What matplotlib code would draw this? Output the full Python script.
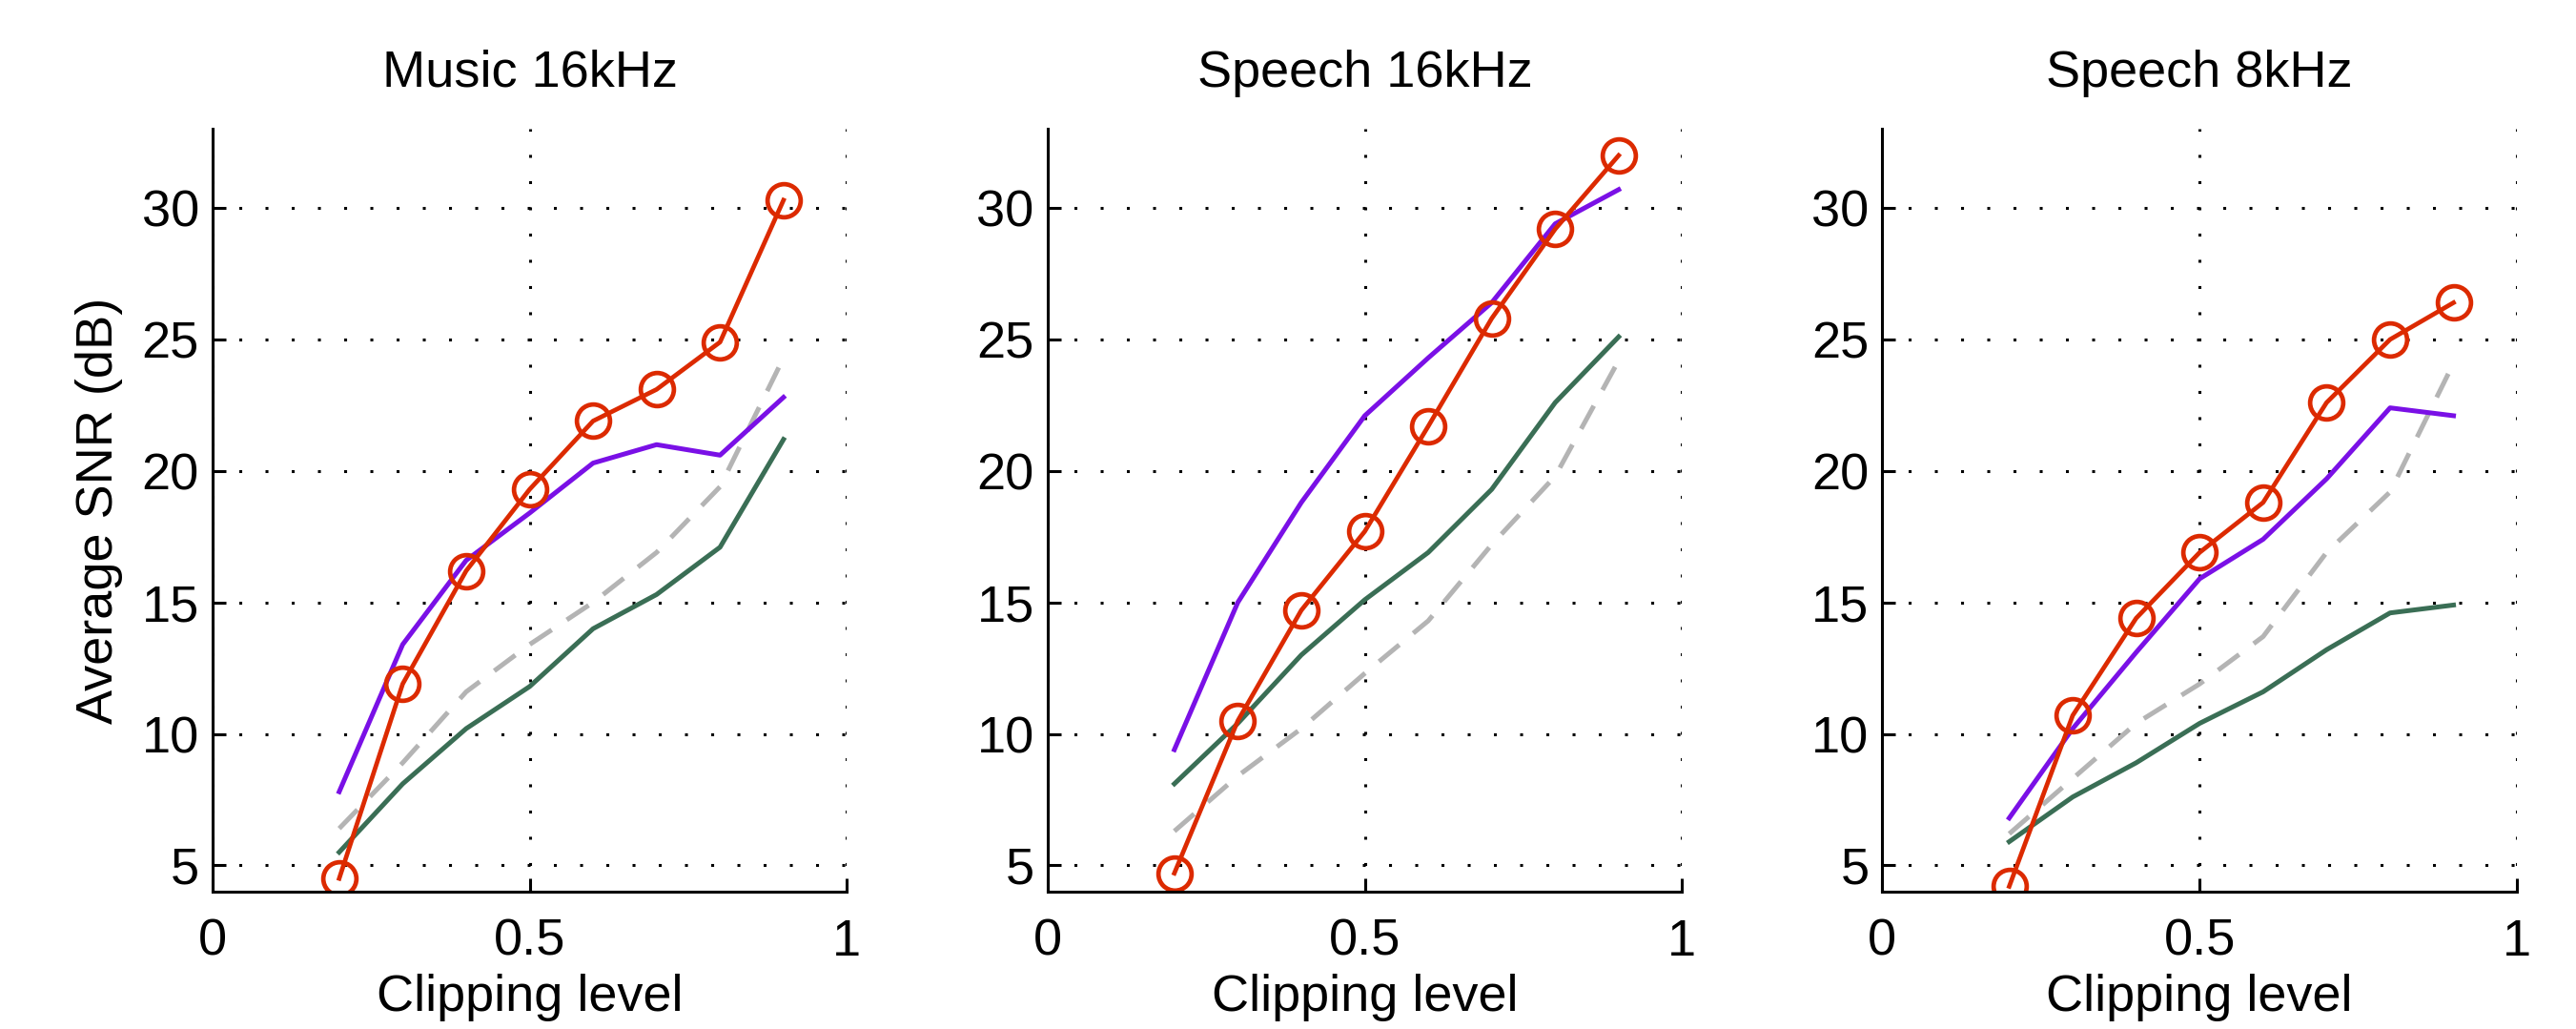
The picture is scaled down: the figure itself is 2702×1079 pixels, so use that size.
import numpy as np
import matplotlib.pyplot as plt

plt.rcParams['font.family'] = ['Liberation Sans', 'DejaVu Sans']

clip = [0.2, 0.3, 0.4, 0.5, 0.6, 0.7, 0.8, 0.9]
titles = ['Music 16kHz', 'Speech 16kHz', 'Speech 8kHz']

# red with circles
red = [
    [4.5, 11.9, 16.2, 19.3, 21.9, 23.1, 24.9, 30.3],
    [4.7, 10.5, 14.7, 17.7, 21.7, 25.8, 29.2, 32.0],
    [4.2, 10.7, 14.4, 16.9, 18.8, 22.6, 25.0, 26.4],
]
# purple
purple = [
    [7.8, 13.4, 16.6, 18.4, 20.3, 21.0, 20.6, 22.8],
    [9.4, 15.0, 18.8, 22.1, 24.3, 26.4, 29.4, 30.7],
    [6.8, 10.2, 13.1, 15.9, 17.4, 19.7, 22.4, 22.1],
]
# dark green
green = [
    [5.5, 8.1, 10.2, 11.8, 14.0, 15.3, 17.1, 21.2],
    [8.1, 10.4, 13.0, 15.1, 16.9, 19.3, 22.6, 25.1],
    [5.9, 7.6, 8.9, 10.4, 11.6, 13.2, 14.6, 14.9],
]
# grey dashed
grey = [
    [6.4, 8.9, 11.6, 13.4, 15.0, 16.9, 19.4, 24.3],
    [6.3, 8.4, 10.2, 12.3, 14.3, 17.2, 19.8, 24.2],
    [6.2, 8.3, 10.4, 11.9, 13.7, 16.9, 19.2, 24.1],
]

fig = plt.figure(figsize=(27.02, 10.79), dpi=100)
lefts = [0.0824, 0.4066, 0.7307]
fs = 39

for i in range(3):
    ax = fig.add_axes([lefts[i], 0.1335, 0.2464, 0.741])
    ax.plot(clip, grey[i], color='#b4b4b4', lw=3.6, dashes=(5.5, 3.8))
    ax.plot(clip, green[i], color='#3a6e55', lw=3.6)
    ax.plot(clip, purple[i], color='#7a10e6', lw=3.6)
    ax.plot(clip, red[i], color='#dc2a00', lw=3.4, marker='o', ms=25,
            mfc='none', mec='#dc2a00', mew=3.4)
    ax.set_xlim(0, 1)
    ax.set_ylim(4, 33)
    ax.set_xticks([0, 0.5, 1])
    ax.set_xticklabels(['0', '0.5', '1'])
    ax.set_yticks([5, 10, 15, 20, 25, 30])
    ax.grid(True, color='black', lw=2.2, dashes=(1, 8))
    ax.spines['top'].set_visible(False)
    ax.spines['right'].set_visible(False)
    ax.spines['left'].set_linewidth(2.2)
    ax.spines['bottom'].set_linewidth(2.2)
    ax.tick_params(direction='in', length=10, width=2.2, labelsize=fs)
    ax.tick_params(axis='x', pad=20)
    ax.tick_params(axis='y', pad=10)
    ax.set_title(titles[i], fontsize=fs, pad=32)
    ax.set_xlabel('Clipping level', fontsize=fs, labelpad=6)
    if i == 0:
        ax.set_ylabel('Average SNR (dB)', fontsize=fs, labelpad=14)

fig.savefig('out.png', dpi=100, facecolor='white')
